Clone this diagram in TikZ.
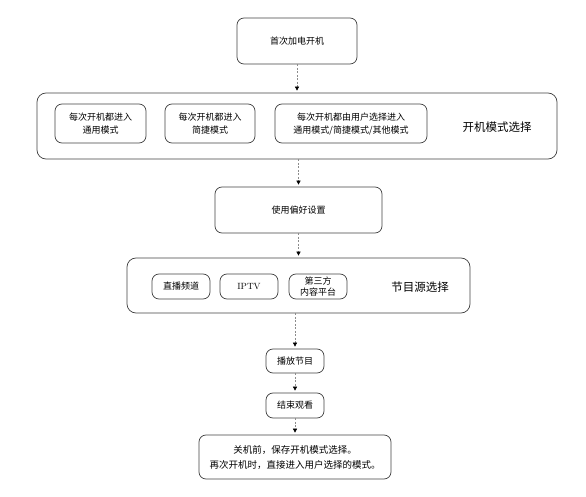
\documentclass[tikz,border=0pt]{standalone}
\usepackage{fontspec}
\usetikzlibrary{arrows.meta,calc}
\newfontfamily\cjk{Noto Sans CJK SC}
\newcommand{\edge}{black!75}
\newcommand{\link}{black!45}
\tikzset{
  stepbox/.style={draw=\edge, line width=0.7pt, rounded corners=7pt, align=center,
    inner sep=0pt, font=\cjk\fontsize{9}{13}\selectfont},
  groupbox/.style={stepbox, rounded corners=9pt},
  grouplabel/.style={font=\cjk\fontsize{11.5}{14}\selectfont},
  flow/.style={draw=\link, line width=0.6pt, dash pattern=on 2pt off 1.5pt,
    -{Triangle[length=4pt,width=4pt,color=black]}, shorten >=2pt},
}

\begin{document}
\begin{tikzpicture}[x=1pt,y=-1pt]
        \useasboundingbox (0,0) rectangle (586,497);
        %\draw[help lines,step=50] (0,0) grid (586,497);
        \node[stepbox, minimum width=120pt, minimum height=46pt] (power) at (297,41) {首次加电开机};
        % boot mode group
        \node[groupbox, minimum width=520pt, minimum height=66pt] (bootgrp) at (297,126) {};
        \node[stepbox, minimum width=91pt, minimum height=39pt] (bootA) at (100.5,123.5) {每次开机都进入\\通用模式};
        \node[stepbox, minimum width=90pt, minimum height=39pt] (bootB) at (210,123.5) {每次开机都进入\\简捷模式};
        \node[stepbox, minimum width=152pt, minimum height=39pt] (bootC) at (351,123.5) {每次开机都由用户选择进入\\通用模式/简捷模式/其他模式};
        \node[grouplabel] (bootlbl) at (497,127) {开机模式选择};
        \node[stepbox, minimum width=167pt, minimum height=46pt] (pref) at (298.5,210) {使用偏好设置};
        % source group
        \node[groupbox, minimum width=343pt, minimum height=55pt] (srcgrp) at (298.5,285.5) {};
        \node[stepbox, minimum width=58pt, minimum height=25pt] (live) at (181,286.5) {直播频道};
        \node[stepbox, minimum width=58pt, minimum height=25pt, font=\rmfamily\fontsize{9}{11}\selectfont] (iptv) at (249,286.5) {IPTV};
        \node[stepbox, minimum width=58pt, minimum height=25pt, font=\cjk\fontsize{9}{11}\selectfont] (third) at (318,286.5) {第三方\\内容平台};
        \node[grouplabel] (srclbl) at (420,287) {节目源选择};
        \node[stepbox, minimum width=58pt, minimum height=24pt] (play) at (295,361) {播放节目};
        \node[stepbox, minimum width=58pt, minimum height=25pt] (stop) at (295,405.5) {结束观看};
        \node[stepbox, minimum width=192pt, minimum height=44pt, font=\cjk\fontsize{9.5}{15}\selectfont] (save) at (295,457) {关机前，保存开机模式选择。\\再次开机时，直接进入用户选择的模式。};
        \draw[flow] (power.south) -- (power.south |- bootgrp.north);
        \draw[flow] (pref.north |- bootgrp.south) -- (pref.north);
        \draw[flow] (pref.south) -- (pref.south |- srcgrp.north);
        \draw[flow] (play.north |- srcgrp.south) -- (play.north);
        \draw[flow] (play) -- (stop);
        \draw[flow] (stop) -- (save);
    \end{tikzpicture}
\end{document}
